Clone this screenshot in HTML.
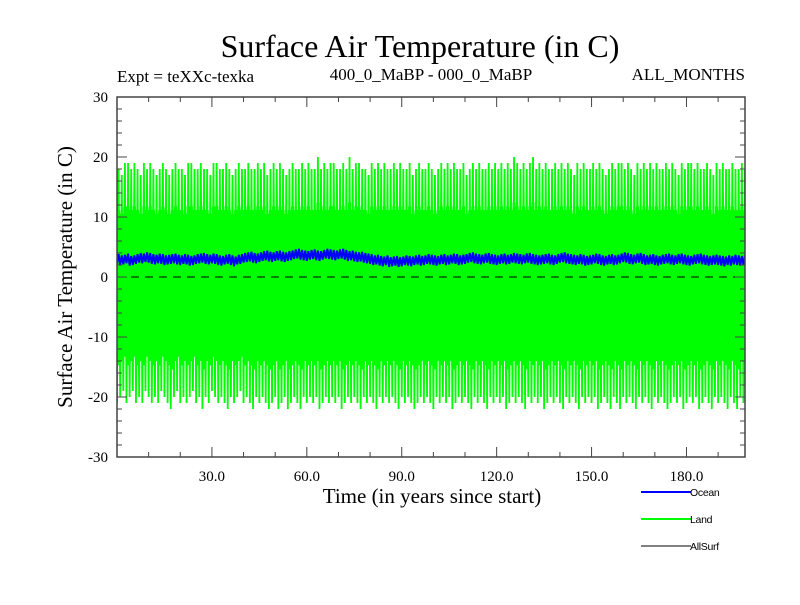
<!DOCTYPE html>
<html><head><meta charset="utf-8"><style>
body{margin:0;background:#fff}
svg text{font-family:"Liberation Serif",serif}
svg text.sans{font-family:"Liberation Sans",sans-serif}
</style></head><body>
<svg width="800" height="600" viewBox="0 0 800 600">
<text x="420" y="57" font-size="32" text-anchor="middle">Surface Air Temperature (in C)</text>
<text x="117" y="82" font-size="17">Expt = teXXc-texka</text>
<text x="431" y="80" font-size="17" text-anchor="middle">400_0_MaBP - 000_0_MaBP</text>
<text x="745" y="80" font-size="17" text-anchor="end">ALL_MONTHS</text>
<g id="plot"></g>
<g id="axes"></g>
<text x="432" y="503" font-size="21" text-anchor="middle">Time (in years since start)</text>
<text transform="translate(72,277) rotate(-90)" font-size="21" text-anchor="middle">Surface Air Temperature (in C)</text>
<g>
<g><line x1="641" y1="492" x2="691" y2="492" stroke="#0000ff" stroke-width="2"/><text class="sans" x="690" y="496" font-size="10.5" letter-spacing="-0.3">Ocean</text></g>
<g><line x1="641" y1="519" x2="691" y2="519" stroke="#00ff00" stroke-width="2"/><text class="sans" x="690" y="523" font-size="10.5" letter-spacing="-0.3">Land</text></g>
<g><line x1="641" y1="546" x2="691" y2="546" stroke="#000" stroke-width="1"/><text class="sans" x="690" y="550" font-size="10.5" letter-spacing="-0.3">AllSurf</text></g>
</g>
</svg>
<script>
const xTicks=[30,60,90,120,150,180];
const xTickLabels=["30.0","60.0","90.0","120.0","150.0","180.0"];
const yTicks=[-30,-20,-10,0,10,20,30];
const yTickLabels=["-30","-20","-10","0","10","20","30"];
const landMax=[18,17,19,19,18,19,18,17,19,18,19,18,17,18,19,18,17,18,19,18,18,17,19,19,18,18,19,18,18,17,19,19,18,18,19,18,17,18,19,18,18,19,18,18,19,18,19,17,18,19,18,19,18,17,18,19,18,18,19,18,19,18,18,20,18,19,18,19,19,18,18,19,18,20,18,19,19,18,18,17,19,18,19,18,19,18,18,19,18,19,18,18,19,17,18,19,18,18,19,18,17,18,19,18,19,18,19,18,18,19,17,18,19,18,19,18,18,19,18,19,18,19,18,19,18,20,19,18,19,18,19,20,18,19,18,19,18,18,19,18,19,18,19,18,17,19,18,19,18,18,19,18,19,18,17,18,19,18,19,19,18,19,18,17,19,18,19,18,19,18,19,18,18,19,18,19,18,17,19,18,19,19,18,19,18,18,19,18,17,19,18,19,18,18,19,18,18,19,18,17,19,18];
const landMin=[-21,-20,-19,-21,-20,-19,-21,-20,-21,-19,-20,-21,-20,-21,-19,-20,-21,-22,-20,-19,-21,-20,-21,-20,-19,-21,-20,-22,-20,-21,-19,-20,-21,-20,-21,-22,-20,-21,-20,-19,-21,-20,-21,-22,-20,-21,-20,-21,-22,-21,-20,-22,-21,-20,-22,-21,-20,-21,-22,-20,-21,-20,-21,-20,-22,-21,-20,-21,-20,-21,-20,-22,-21,-20,-21,-20,-21,-22,-20,-21,-20,-21,-22,-20,-21,-20,-21,-20,-21,-22,-20,-21,-20,-21,-22,-21,-20,-21,-20,-21,-22,-20,-21,-20,-21,-20,-22,-21,-20,-21,-20,-21,-22,-20,-21,-20,-21,-22,-20,-21,-20,-21,-20,-22,-21,-20,-21,-20,-21,-22,-20,-21,-20,-21,-20,-22,-21,-20,-21,-20,-21,-22,-20,-21,-20,-21,-22,-20,-21,-20,-21,-20,-22,-21,-20,-21,-22,-20,-21,-22,-20,-21,-20,-21,-22,-20,-21,-20,-21,-22,-20,-21,-20,-21,-22,-21,-20,-21,-20,-22,-21,-20,-21,-20,-22,-21,-20,-21,-22,-20,-21,-20,-21,-22,-20,-21,-22,-20,-21,-20,-22,-21];
const ocean=[3.0,2.8,2.9,3.1,2.7,2.8,3.0,3.2,3.1,3.3,3.2,3.0,2.9,3.1,3.0,2.8,2.9,3.0,3.1,2.9,2.8,3.0,2.9,2.7,2.8,3.0,3.1,3.2,3.0,2.9,3.1,3.0,2.8,2.7,2.9,3.0,2.8,2.6,2.9,3.0,3.2,3.3,3.4,3.2,3.1,3.3,3.5,3.6,3.4,3.3,3.5,3.6,3.4,3.3,3.5,3.6,3.8,3.9,3.7,3.6,3.5,3.7,3.8,3.6,3.5,3.7,3.9,3.8,3.7,3.6,3.8,3.9,3.7,3.5,3.6,3.4,3.3,3.4,3.2,3.1,3.0,2.8,2.9,2.7,2.6,2.8,2.5,2.6,2.7,2.5,2.6,2.8,2.7,2.6,2.8,2.9,2.7,2.8,3.0,2.9,2.8,2.7,2.9,3.0,2.8,2.9,3.1,3.0,2.8,2.9,3.0,3.2,3.3,3.1,3.0,2.9,3.1,3.2,3.0,2.9,2.8,3.0,3.1,2.9,3.0,3.2,3.1,3.0,2.9,3.1,3.2,3.0,2.9,2.8,2.9,3.0,3.1,2.9,2.8,3.0,3.2,3.3,3.1,3.0,2.9,2.8,3.0,2.9,2.7,2.8,2.9,3.1,3.0,2.8,2.7,2.9,3.0,2.8,2.9,3.1,3.3,3.2,3.0,2.9,3.1,3.2,3.0,2.8,2.9,3.0,2.8,2.7,2.9,3.0,3.1,2.9,2.8,3.0,3.1,2.9,2.8,2.7,2.9,3.0,3.1,2.9,2.8,2.7,2.8,2.9,2.8,2.7,2.6,2.8,2.7,2.9,2.8,2.7,2.8,2.9];
const L=117,R=745,T=97,B=457,X0=0,X1=198.5,Y0=-30,Y1=30;
const NS="http://www.w3.org/2000/svg";
function sx(v){return L+(v-X0)/(X1-X0)*(R-L);}
function sy(v){return B-(v-Y0)/(Y1-Y0)*(B-T);}
function mk(tag,attrs,parent){const e=document.createElementNS(NS,tag);for(const k in attrs)e.setAttribute(k,attrs[k]);parent.appendChild(e);return e;}
const plot=document.getElementById('plot'),axes=document.getElementById('axes');
const clip=mk('clipPath',{id:'pc'},plot);mk('rect',{x:L,y:T,width:R-L,height:B-T},clip);
const nLand=Math.min(landMax.length,landMin.length);
let upper="",lower="";
for(let i=0;i<nLand;i++){
  upper+=(i?"L":"M")+sx(i).toFixed(2)+","+sy(landMax[i]*0.62).toFixed(2)+"L"+sx(i+1).toFixed(2)+","+sy(landMax[i]*0.62).toFixed(2);
}
for(let i=nLand-1;i>=0;i--){
  lower+="L"+sx(i+1).toFixed(2)+","+sy(landMin[i]*0.7).toFixed(2)+"L"+sx(i).toFixed(2)+","+sy(landMin[i]*0.7).toFixed(2);
}
const band=mk('path',{d:upper+lower+"Z",fill:'#00ff00','clip-path':'url(#pc)'},plot);


let d="";
for(let i=0;i<nLand;i++){
  d+=(i?"L":"M")+sx(i).toFixed(2)+","+sy(landMin[i]).toFixed(2);
  d+="L"+sx(i+0.5).toFixed(2)+","+sy(landMax[i]).toFixed(2);
}
const land=mk('path',{d:d,fill:'none',stroke:'#00ff00','stroke-width':1.8,'clip-path':'url(#pc)'},plot);


let od="";
for(let i=0;i<ocean.length;i++){
  od+=(i?"L":"M")+sx(i).toFixed(2)+","+sy(ocean[i]-0.8).toFixed(2);
  od+="L"+sx(i+0.5).toFixed(2)+","+sy(ocean[i]+0.8).toFixed(2);
}
const oc=mk('path',{d:od,fill:'none',stroke:'#0000ff','stroke-width':2,'clip-path':'url(#pc)'},plot);


const zl=mk('line',{x1:L,x2:R,y1:sy(0),y2:sy(0),stroke:'#000','stroke-width':1,'stroke-dasharray':'8,6'},plot);


const fr=mk('rect',{x:L,y:T,width:R-L,height:B-T,fill:'none',stroke:'#444','stroke-width':1.5},axes);


for(let v=Y0;v<=Y1;v+=2){
  const len=(v%10===0)?10:5;
  mk('line',{x1:L,x2:L+len,y1:sy(v),y2:sy(v),stroke:'#444'},axes);
  mk('line',{x1:R,x2:R-len,y1:sy(v),y2:sy(v),stroke:'#444'},axes);
}
for(let v=10;v<X1;v+=10){
  const len=(v%30===0)?10:5;
  mk('line',{x1:sx(v),x2:sx(v),y1:B,y2:B-len,stroke:'#444'},axes);
  mk('line',{x1:sx(v),x2:sx(v),y1:T,y2:T+len,stroke:'#444'},axes);
}
xTicks.forEach((v,i)=>{
  const t=mk('text',{x:sx(v),y:B+24,'font-size':15,'text-anchor':'middle'},axes);
  t.textContent=xTickLabels[i];
  
  
});
yTicks.forEach((v,i)=>{
  const t=mk('text',{x:L-9,y:sy(v)+5,'font-size':15,'text-anchor':'end'},axes);
  t.textContent=yTickLabels[i];
  
  
});
</script>
</body></html>
